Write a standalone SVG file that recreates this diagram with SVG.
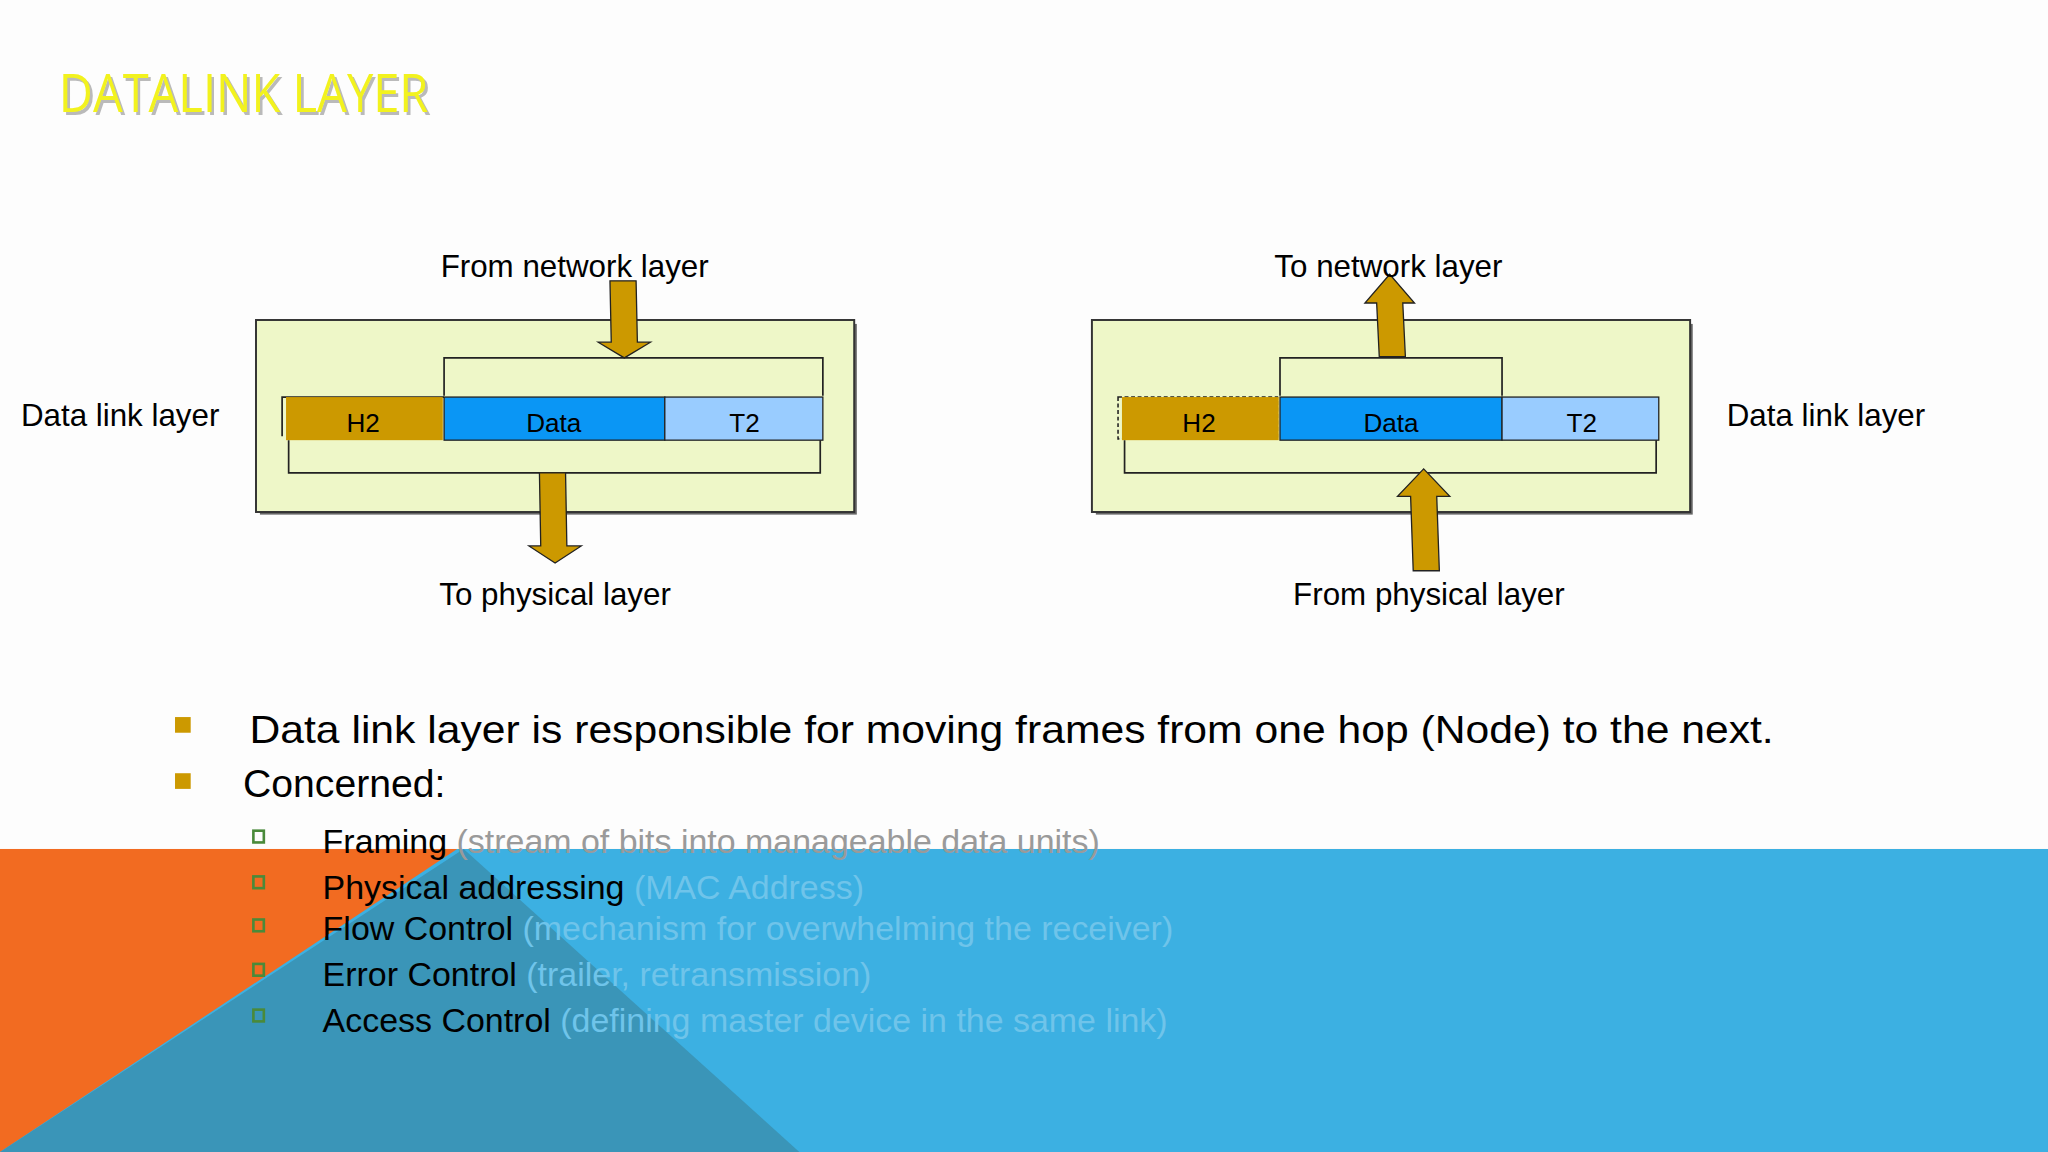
<svg xmlns="http://www.w3.org/2000/svg" width="2048" height="1152" viewBox="0 0 2048 1152">
<style>
.t{font-family:"Liberation Sans",Arial,sans-serif;fill:#000}
.lbl{font-size:24px}
.cell{font-size:20px;text-anchor:middle}
.box{fill:#eef7c8;stroke:#333;stroke-width:1.5}
.br{fill:none;stroke:#222;stroke-width:1.3}
.arr{fill:#cc9900;stroke:#222;stroke-width:1}
.sub{font-size:26px}
.g{fill:#9a9a9a}
.sb{fill:none;stroke:#4a8a3a;stroke-width:2}
</style>
<rect width="2048" height="1152" fill="#fdfdfd"/>
<g transform="scale(1.30612)">
<g id="background">
<rect x="0" y="650" width="1568" height="232" fill="#f26b21"/>
<polygon points="350,650 1568,650 1568,882 0,882" fill="#3cb0e2"/>
<polygon points="355,650 612,882 0,882" fill="#3a95b8"/>
</g>
<g id="title"><text x="47" y="88" font-family="'Open Sans',sans-serif" font-size="40" fill="#222" opacity="0.3" textLength="283" lengthAdjust="spacingAndGlyphs">DATALINK LAYER</text><text x="45" y="86" font-family="'Open Sans',sans-serif" font-size="40" fill="#f2f21e" textLength="283" lengthAdjust="spacingAndGlyphs">DATALINK LAYER</text></g>

<g id="left-diagram">
<rect x="199" y="248" width="457" height="146" fill="#666"/>
<rect class="box" x="196" y="245" width="458" height="147"/>
<polyline class="br" points="340,303 340,274 630,274 630,303"/>
<polyline class="br" points="216,334 216,304 340,304"/>
<rect x="219" y="304" width="120" height="33" fill="#cc9900"/>
<rect x="340" y="304" width="169" height="33" fill="#0a96f5" stroke="#222" stroke-width="1"/>
<rect x="509" y="304" width="121" height="33" fill="#99ccff" stroke="#222" stroke-width="1"/>
<text class="t cell" x="278" y="331">H2</text>
<text class="t cell" x="424" y="331">Data</text>
<text class="t cell" x="570" y="331">T2</text>
<polyline class="br" points="221,337 221,362 628,362 628,337"/>
</g>
<g id="right-diagram">
<rect x="839" y="248" width="457" height="146" fill="#666"/>
<rect class="box" x="836" y="245" width="458" height="147"/>
<polyline class="br" points="980,303 980,274 1150,274 1150,303"/>
<rect x="856" y="304" width="122" height="32" fill="none" stroke="#222" stroke-width="1.2" stroke-dasharray="3,2"/>
<rect x="859" y="304" width="120" height="33" fill="#cc9900"/>
<rect x="980" y="304" width="170" height="33" fill="#0a96f5" stroke="#222" stroke-width="1"/>
<rect x="1150" y="304" width="120" height="33" fill="#99ccff" stroke="#222" stroke-width="1"/>
<text class="t cell" x="918" y="331">H2</text>
<text class="t cell" x="1065" y="331">Data</text>
<text class="t cell" x="1211" y="331">T2</text>
<polyline class="br" points="861,337 861,362 1268,362 1268,337"/>
</g>
<g id="connectors">
<polygon class="arr" points="467,215 487,215 488,262 498,262 478,274 458,262 468,262"/>
<polygon class="arr" points="413,362 433,362 434,418 445,418 425,431 405,418 414,418"/>
<polygon class="arr" points="1056,273 1076,273 1074,232 1083,232 1064,210 1045,232 1054,232"/>
<polygon class="arr" points="1082,437 1102,437 1100,380 1110,380 1090,359 1070,380 1080,380"/>
</g>
<g id="labels">
<text class="t lbl" x="440" y="212" text-anchor="middle">From network layer</text>
<text class="t lbl" x="16" y="326">Data link layer</text>
<text class="t lbl" x="425" y="463" text-anchor="middle">To physical layer</text>
<text class="t lbl" x="1063" y="212" text-anchor="middle">To network layer</text>
<text class="t lbl" x="1322" y="326">Data link layer</text>
<text class="t lbl" x="1094" y="463" text-anchor="middle">From physical layer</text>
</g>
<g id="bullets">
<rect x="134" y="549" width="12" height="12" fill="#cc9900"/>
<rect x="134" y="592" width="12" height="12" fill="#cc9900"/>
<text class="t" x="191" y="569" font-size="30" textLength="1167" lengthAdjust="spacingAndGlyphs">Data link layer is responsible for moving frames from one hop (Node) to the next.</text>
<text class="t" x="186" y="610" font-size="30">Concerned:</text>
<rect class="sb" x="194" y="636" width="8" height="9"/>
<rect class="sb" x="194" y="671" width="8" height="9"/>
<rect class="sb" x="194" y="704" width="8" height="9"/>
<rect class="sb" x="194" y="738" width="8" height="9"/>
<rect class="sb" x="194" y="773" width="8" height="9"/>
<text class="t sub" x="247" y="653">Framing <tspan class="g">(stream of bits into manageable data units)</tspan></text>
<text class="t sub" x="247" y="688">Physical addressing <tspan fill="#6fc4ea">(MAC Address)</tspan></text>
<text class="t sub" x="247" y="720">Flow Control <tspan fill="#6fc4ea">(mechanism for overwhelming the receiver)</tspan></text>
<text class="t sub" x="247" y="755">Error Control <tspan fill="#6fc4ea">(trailer, retransmission)</tspan></text>
<text class="t sub" x="247" y="790">Access Control <tspan fill="#6fc4ea">(defining master device in the same link)</tspan></text>
</g>
</g>
</svg>
